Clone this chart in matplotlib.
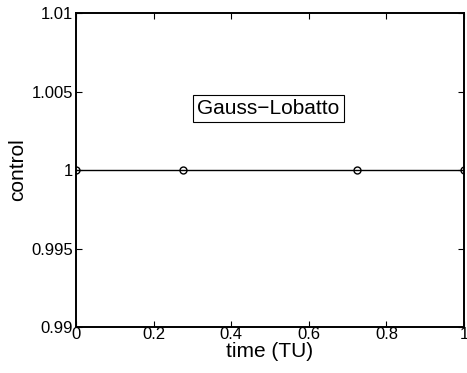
import matplotlib
matplotlib.use("Agg")
import matplotlib.pyplot as plt

time = [0.0, 0.2764, 0.7236, 1.0]
control = [1.0, 1.0, 1.0, 1.0]
xticks = [0, 0.2, 0.4, 0.6, 0.8, 1]
xticklabels = ["0", "0.2", "0.4", "0.6", "0.8", "1"]
yticks = [0.99, 0.995, 1.0, 1.005, 1.01]
yticklabels = ["0.99", "0.995", "1", "1.005", "1.01"]

plt.rcParams["font.family"] = ["Liberation Sans", "DejaVu Sans"]

fig = plt.figure(figsize=(4.67, 3.73), dpi=100)
ax = fig.add_axes([0.1627, 0.1233, 0.831, 0.8418])

ax.plot(time, control, color="black", linewidth=1.0, marker="o",
        markersize=5, markerfacecolor="none", markeredgewidth=1.0)

ax.set_xlim(0, 1)
ax.set_ylim(0.99, 1.01)
ax.set_xticks(xticks)
ax.set_xticklabels(xticklabels)
ax.set_yticks(yticks)
ax.set_yticklabels(yticklabels)
ax.tick_params(direction="in", top=True, right=True, labelsize=12, length=4, width=0.8)
ax.tick_params(axis="x", pad=0)
ax.tick_params(axis="y", pad=2)
for s in ax.spines.values():
    s.set_linewidth(1.4)

ax.set_xlabel("time (TU)", fontsize=15, labelpad=0)
ax.set_ylabel("control", fontsize=15, labelpad=3)

ax.text(0.496, 1.0039, "Gauss\u2212Lobatto", fontsize=15, ha="center", va="center",
        bbox=dict(boxstyle="square,pad=0.2", facecolor="white", edgecolor="black", linewidth=0.8))

fig.savefig("out.png", dpi=100)
